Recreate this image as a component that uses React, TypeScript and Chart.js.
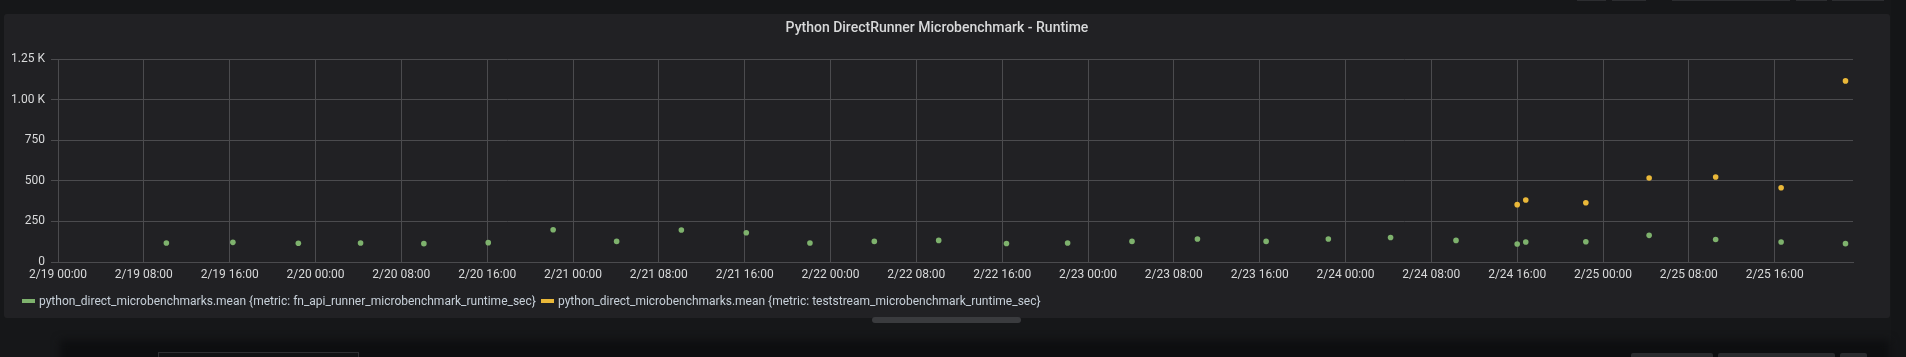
import React, { useEffect, useRef } from "react";
import { Chart, registerables } from "chart.js";

Chart.register(...registerables);

// ---- data ----
const TITLE = "Python DirectRunner Microbenchmark - Runtime";
const SERIES_NAMES = [
  "python_direct_microbenchmarks.mean {metric: fn_api_runner_microbenchmark_runtime_sec}",
  "python_direct_microbenchmarks.mean {metric: teststream_microbenchmark_runtime_sec}",
];
const SERIES_COLORS = ["#7EB26D", "#EAB839"];

const fnApiTimes = [
  "2019-02-19 10:06", "2019-02-19 16:18", "2019-02-19 22:24", "2019-02-20 04:12",
  "2019-02-20 10:06", "2019-02-20 16:06", "2019-02-20 22:09", "2019-02-21 04:04",
  "2019-02-21 10:06", "2019-02-21 16:09", "2019-02-21 22:05", "2019-02-22 04:05",
  "2019-02-22 10:05", "2019-02-22 16:24", "2019-02-22 22:06", "2019-02-23 04:06",
  "2019-02-23 10:12", "2019-02-23 16:36", "2019-02-23 22:24", "2019-02-24 04:12",
  "2019-02-24 10:18", "2019-02-24 16:00", "2019-02-24 16:48", "2019-02-24 22:24",
  "2019-02-25 04:18", "2019-02-25 10:30", "2019-02-25 16:36", "2019-02-25 22:36",
];
const fnApiValues = [
  117, 121, 115, 117, 113, 119, 199, 127, 197, 180, 117, 127, 133, 114,
  117, 127, 142, 127, 142, 151, 133, 111, 123, 125, 164, 139, 123, 113,
];

const teststreamTimes = [
  "2019-02-24 16:00", "2019-02-24 16:48", "2019-02-24 22:24", "2019-02-25 04:18",
  "2019-02-25 10:30", "2019-02-25 16:36", "2019-02-25 22:36",
];
const teststreamValues = [353, 382, 365, 517, 523, 457, 1115];

const X_RANGE = ["2019-02-19 00:00", "2019-02-25 23:18"];
const X_TICK_STEP_HOURS = 8;
const Y_TICKS = [0, 250, 500, 750, 1000, 1250];
const Y_TICK_LABELS = ["0", "250", "500", "750", "1.00 K", "1.25 K"];

// ---- helpers ----
function toMs(s: string): number {
  const [d, t] = s.split(" ");
  const [y, m, dd] = d.split("-").map(Number);
  const [h, mi] = t.split(":").map(Number);
  return Date.UTC(y, m - 1, dd, h, mi);
}
const pad2 = (n: number) => (n < 10 ? "0" + n : "" + n);
function fmtTime(ms: number): string {
  const d = new Date(ms);
  return `${d.getUTCMonth() + 1}/${d.getUTCDate()} ${pad2(d.getUTCHours())}:${pad2(d.getUTCMinutes())}`;
}

const GRID = "#4b4b4e";
const TEXT = "#d8d9da";
const FONT = "Roboto, 'Noto Sans', sans-serif";

export default function App() {
  const ref = useRef<HTMLCanvasElement | null>(null);

  useEffect(() => {
    document.body.style.margin = "0";
    const xMin = toMs(X_RANGE[0]);
    const xMax = toMs(X_RANGE[1]);
    const xTicks: number[] = [];
    for (let v = xMin; v <= xMax; v += X_TICK_STEP_HOURS * 3600000) xTicks.push(v);

    const mk = (times: string[], vals: number[], i: number) => ({
      label: SERIES_NAMES[i],
      data: times.map((t, k) => ({ x: toMs(t), y: vals[k] })),
      backgroundColor: SERIES_COLORS[i],
      borderColor: SERIES_COLORS[i],
      pointRadius: 2.8,
      pointHoverRadius: 2.8,
      borderWidth: 0,
      showLine: false,
    });

    const chart = new Chart(ref.current!, {
      type: "scatter",
      data: {
        datasets: [
          mk(fnApiTimes, fnApiValues, 0),
          mk(teststreamTimes, teststreamValues, 1),
        ],
      },
      options: {
        animation: false,
        responsive: false,
        maintainAspectRatio: false,
        events: [],
        layout: { padding: { left: 0, top: 59, right: 53, bottom: 0 } },
        plugins: {
          legend: { display: false },
          title: { display: false },
          tooltip: { enabled: false },
        },
        scales: {
          x: {
            type: "linear",
            min: xMin,
            max: xMax,
            afterBuildTicks: (s: any) => {
              s.ticks = xTicks.map((v) => ({ value: v }));
            },
            afterFit: (s: any) => {
              s.height = 95;
            },
            ticks: {
              callback: (v: any) => fmtTime(Number(v)),
              autoSkip: false,
              maxRotation: 0,
              minRotation: 0,
              color: TEXT,
              font: { family: FONT, size: 12 },
              padding: 6,
            },
            grid: { color: GRID, drawTicks: false, lineWidth: 1 },
            border: { color: GRID, width: 1 },
          },
          y: {
            type: "linear",
            min: 0,
            max: 1250,
            afterBuildTicks: (s: any) => {
              s.ticks = Y_TICKS.map((v) => ({ value: v }));
            },
            afterFit: (s: any) => {
              s.width = 58;
            },
            ticks: {
              callback: (v: any) => {
                const i = Y_TICKS.indexOf(Number(v));
                return i >= 0 ? Y_TICK_LABELS[i] : "";
              },
              color: TEXT,
              font: { family: FONT, size: 12 },
              padding: 6,
            },
            grid: { color: GRID, tickLength: 7, lineWidth: 1 },
            border: { color: GRID, width: 1 },
          },
        },
      },
    } as any);
    return () => chart.destroy();
  }, []);

  return (
    <div
      style={{
        position: "fixed",
        left: 0,
        top: 0,
        width: 1906,
        height: 357,
        background: "#161719",
        overflow: "hidden",
        fontFamily: FONT,
      }}
    >
      {/* top toolbar fragments */}
      {[
        [1577, 29],
        [1612, 34],
        [1672, 118],
        [1796, 31],
        [1832, 52],
      ].map(([x, w], i) => (
        <div key={i} style={{ position: "absolute", left: x, top: 0, width: w, height: 1, background: "#2c2d30" }} />
      ))}
      {/* right strip */}
      <div style={{ position: "absolute", left: 1891, top: 0, width: 15, height: 357, background: "#141517" }} />
      {/* panel */}
      <div
        style={{
          position: "absolute",
          left: 4,
          top: 14,
          width: 1886,
          height: 304,
          background: "#212124",
          borderRadius: 3,
        }}
      />
      {/* bottom dark area */}
      <div
        style={{
          position: "absolute",
          left: 60,
          top: 340,
          width: 1830,
          height: 30,
          background: "#0d0e10",
          filter: "blur(4px)",
        }}
      />
      <div style={{ position: "absolute", left: 158, top: 352, width: 199, height: 10, border: "1px solid #2e2f32", background: "#111214" }} />
      <div style={{ position: "absolute", left: 1631, top: 353, width: 82, height: 10, background: "#2a2b2e", borderRadius: 2 }} />
      <div style={{ position: "absolute", left: 1718, top: 353, width: 117, height: 10, background: "#2a2b2e", borderRadius: 2 }} />
      <div style={{ position: "absolute", left: 1840, top: 353, width: 27, height: 10, background: "#2a2b2e", borderRadius: 2 }} />
      <canvas
        ref={ref}
        width={1906}
        height={357}
        style={{ position: "absolute", left: 0, top: 0, width: 1906, height: 357 }}
      />
      {/* title */}
      <div
        style={{
          position: "absolute",
          left: 637,
          width: 600,
          top: 19,
          textAlign: "center",
          fontSize: 14,
          fontWeight: 500,
          color: TEXT,
          lineHeight: "17px",
        }}
      >
        {TITLE}
      </div>
      {/* legend */}
      {SERIES_NAMES.map((name, i) => {
        const x = i === 0 ? 22 : 541;
        return (
          <div
            key={i}
            style={{
              position: "absolute",
              left: x,
              top: 293,
              height: 16,
              display: "flex",
              alignItems: "center",
              whiteSpace: "nowrap",
              fontSize: 12,
              color: "#c7d0d9",
            }}
          >
            <span style={{ display: "inline-block", width: 13, height: 4, background: SERIES_COLORS[i], marginRight: 4 }} />
            <span>{name}</span>
          </div>
        );
      })}
      {/* scrollbar handle */}
      <div
        style={{
          position: "absolute",
          left: 872,
          top: 317,
          width: 149,
          height: 6,
          background: "#3a3b3e",
          borderRadius: 3,
        }}
      />
    </div>
  );
}
